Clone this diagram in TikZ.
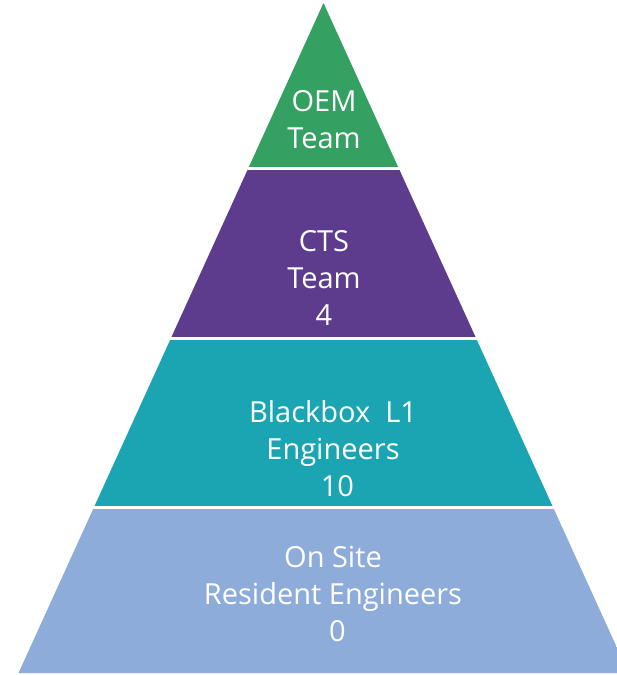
\documentclass[tikz,border=0pt]{standalone}
\usepackage{fontspec}
\setmainfont{Open Sans}
\definecolor{oemgreen}{RGB}{52,160,98}
\definecolor{ctspurple}{RGB}{93,59,141}
\definecolor{lonelteal}{RGB}{27,165,178}
\definecolor{siteblue}{RGB}{141,172,218}
\tikzset{
  layer text/.style={text=white, align=center, inner sep=0pt, anchor=north,
    font=\fontsize{29}{37}\selectfont}
}

\begin{document}
\begin{tikzpicture}[x=1pt,y=-1pt]
	\useasboundingbox (0,0) rectangle (617,675);
	% Pyramid outline:
	\coordinate (apex) at (323.5,3);
	\coordinate (baseL) at (18.5,673);
	\coordinate (baseR) at (628.5,673);
	\begin{scope}
		\clip (0,0) rectangle (617,675);
		\clip (apex) -- (baseL) -- (baseR) -- cycle;
		\fill[oemgreen] (0,0) rectangle (617,167);
		\fill[ctspurple] (0,170) rectangle (617,337);
		\fill[lonelteal] (0,339.5) rectangle (617,506);
		\fill[siteblue] (0,508.5) rectangle (617,675);
	\end{scope}
	% Layer labels:
	\node[layer text] (oem) at (324,90) {OEM\\Team};
	\node[layer text] (cts) at (324,230) {CTS\\Team\\4};
	\node[layer text] (blackbox) at (333,400) {Blackbox\ \ L1\\Engineers\\\hspace*{0.3em}10};
	\node[layer text] (onsite) at (333,546) {On Site\\Resident Engineers\\\hspace*{0.3em}0};
\end{tikzpicture}
\end{document}
